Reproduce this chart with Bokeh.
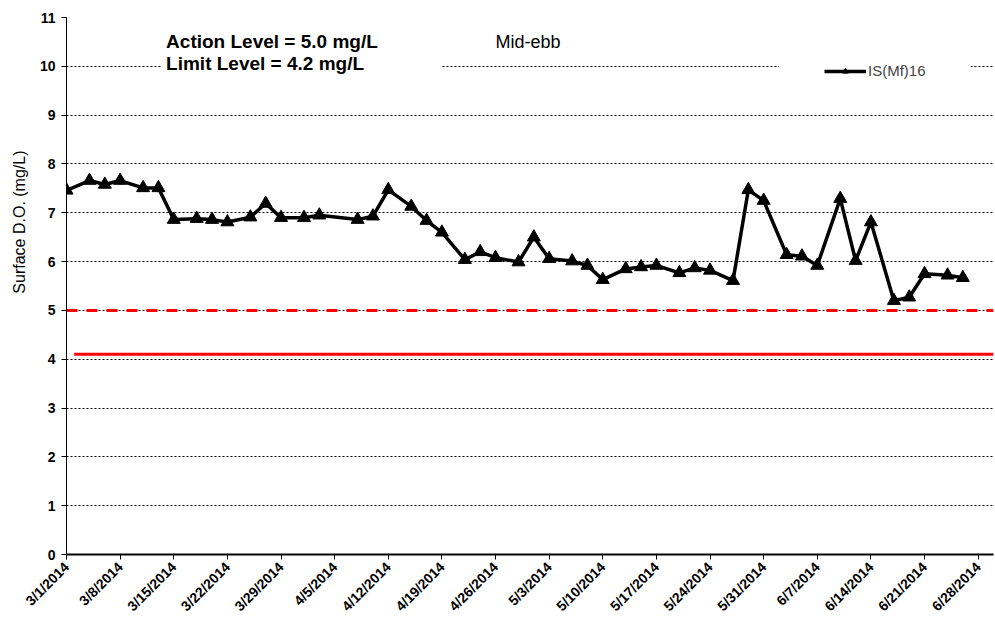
import pandas as pd
from math import pi
from bokeh.plotting import figure
from bokeh.models import (FixedTicker, CustomJSTickFormatter, Label, BoxAnnotation,
                          Legend, LegendItem, Range1d, Title)
from bokeh.embed import file_html
from bokeh.resources import INLINE

# ---------------- data ----------------
sample_dates = ["2014-03-01", "2014-03-04", "2014-03-06", "2014-03-08", "2014-03-11",
                "2014-03-13", "2014-03-15", "2014-03-18", "2014-03-20", "2014-03-22",
                "2014-03-25", "2014-03-27", "2014-03-29", "2014-04-01", "2014-04-03",
                "2014-04-08", "2014-04-10", "2014-04-12", "2014-04-15", "2014-04-17",
                "2014-04-19", "2014-04-22", "2014-04-24", "2014-04-26", "2014-04-29",
                "2014-05-01", "2014-05-03", "2014-05-06", "2014-05-08", "2014-05-10",
                "2014-05-13", "2014-05-15", "2014-05-17", "2014-05-20", "2014-05-22",
                "2014-05-24", "2014-05-27", "2014-05-29", "2014-05-31", "2014-06-03",
                "2014-06-05", "2014-06-07", "2014-06-10", "2014-06-12", "2014-06-14",
                "2014-06-17", "2014-06-19", "2014-06-21", "2014-06-24", "2014-06-26"]
do_values = [7.46, 7.66, 7.58, 7.66, 7.51,
             7.51, 6.86, 6.88, 6.86, 6.81,
             6.91, 7.19, 6.90, 6.90, 6.95,
             6.86, 6.93, 7.47, 7.13, 6.84,
             6.60, 6.04, 6.20, 6.08, 5.99,
             6.50, 6.06, 6.01, 5.92, 5.63,
             5.85, 5.89, 5.92, 5.77, 5.87,
             5.82, 5.61, 7.47, 7.25, 6.14,
             6.11, 5.92, 7.29, 6.02, 6.81,
             5.20, 5.27, 5.75, 5.72, 5.67]
series_name = "IS(Mf)16"

action_dates = ["2014-03-01", "2014-06-30"]
action_values = [5.0, 5.0]
limit_dates = ["2014-03-02", "2014-06-30"]
limit_values = [4.1, 4.1]

tick_dates = ["2014-03-01", "2014-03-08", "2014-03-15", "2014-03-22", "2014-03-29",
              "2014-04-05", "2014-04-12", "2014-04-19", "2014-04-26", "2014-05-03",
              "2014-05-10", "2014-05-17", "2014-05-24", "2014-05-31", "2014-06-07",
              "2014-06-14", "2014-06-21", "2014-06-28"]
y_ticks = [0, 1, 2, 3, 4, 5, 6, 7, 8, 9, 10, 11]


def ms(s):
    return pd.Timestamp(s).value / 1e6


x_series = [ms(d) for d in sample_dates]
FONT = "Liberation Sans"

p = figure(width=995, height=629, x_axis_type="datetime",
           x_range=Range1d(ms("2014-03-01"), ms("2014-06-30")),
           y_range=Range1d(0, 11),
           output_backend="svg", toolbar_location=None,
           min_border_left=66, min_border_right=2, min_border_top=17, min_border_bottom=75)
p.outline_line_color = None
p.background_fill_color = "white"

# y-axis title placed on the left side, toward the top
p.add_layout(Title(text="Surface D.O. (mg/L)", align="right", offset=133,
                   text_font=FONT, text_font_size="16px", text_font_style="normal",
                   text_color="black", standoff=17), "left")

# grid
p.xgrid.visible = False
p.ygrid.ticker = FixedTicker(ticks=y_ticks)
p.ygrid.grid_line_color = "black"
p.ygrid.grid_line_dash = "2 2"
p.ygrid.grid_line_width = 1

# axes
p.xaxis.ticker = FixedTicker(ticks=[ms(d) for d in tick_dates])
p.xaxis.formatter = CustomJSTickFormatter(code="""
const d = new Date(tick);
return (d.getUTCMonth()+1) + "/" + d.getUTCDate() + "/" + d.getUTCFullYear();
""")
p.xaxis.major_label_orientation = pi / 4
p.xaxis.major_label_text_font = FONT
p.xaxis.major_label_text_font_style = "bold"
p.xaxis.major_label_text_font_size = "14px"
p.xaxis.major_label_text_color = "black"
p.xaxis.axis_line_width = 2
p.xaxis.axis_line_color = "black"
p.xaxis.major_tick_out = 5
p.xaxis.major_tick_in = 0
p.xaxis.major_tick_line_color = "black"
p.xaxis.minor_tick_line_color = None

p.yaxis.ticker = FixedTicker(ticks=y_ticks)
p.yaxis.major_label_text_font = FONT
p.yaxis.major_label_text_font_style = "bold"
p.yaxis.major_label_text_font_size = "14px"
p.yaxis.major_label_text_color = "black"
p.yaxis.axis_line_color = "black"
p.yaxis.axis_line_width = 1
p.yaxis.major_tick_out = 5
p.yaxis.major_tick_in = 0
p.yaxis.major_tick_line_color = "black"
p.yaxis.minor_tick_line_color = None
p.yaxis.major_label_standoff = 6

# white boxes behind the annotation texts / legend
p.add_layout(BoxAnnotation(left=ms("2014-03-13T12:00"), right=ms("2014-04-19"), bottom=9.6, top=10.75,
                           fill_color="white", fill_alpha=1, line_color=None, level="underlay"))
p.add_layout(BoxAnnotation(left=ms("2014-06-02"), right=ms("2014-06-27"), bottom=9.55, top=10.4,
                           fill_color="white", fill_alpha=1, line_color=None, level="underlay"))

# reference lines
p.line([ms(d) for d in action_dates], action_values, line_color="#ff0000", line_width=3,
       line_dash="11 9")
p.line([ms(d) for d in limit_dates], limit_values, line_color="#ff0000", line_width=3)

# series
lr = p.line(x_series, do_values, line_color="black", line_width=3.5)
sr = p.scatter(x_series, do_values, marker="triangle", size=13, fill_color="black",
               line_color="black")

legend = Legend(items=[LegendItem(label=series_name, renderers=[lr, sr])],
                location=(758, 475), background_fill_alpha=0, border_line_color=None,
                margin=0, padding=0, glyph_width=42, glyph_height=14, label_standoff=2,
                label_text_font=FONT, label_text_font_size="15px")
p.add_layout(legend, "center")

# texts
p.add_layout(Label(x=ms("2014-03-14"), y=10.5, text="Action Level = 5.0 mg/L",
                   text_font=FONT, text_font_style="bold", text_font_size="19px",
                   text_baseline="middle", text_color="black"))
p.add_layout(Label(x=ms("2014-03-14"), y=10.05, text="Limit Level = 4.2 mg/L",
                   text_font=FONT, text_font_style="bold", text_font_size="19px",
                   text_baseline="middle", text_color="black"))
p.add_layout(Label(x=ms("2014-04-26"), y=10.5, text="Mid-ebb",
                   text_font=FONT, text_font_size="18px",
                   text_baseline="middle", text_color="black"))

open("out.html", "w").write(file_html(p, INLINE))
